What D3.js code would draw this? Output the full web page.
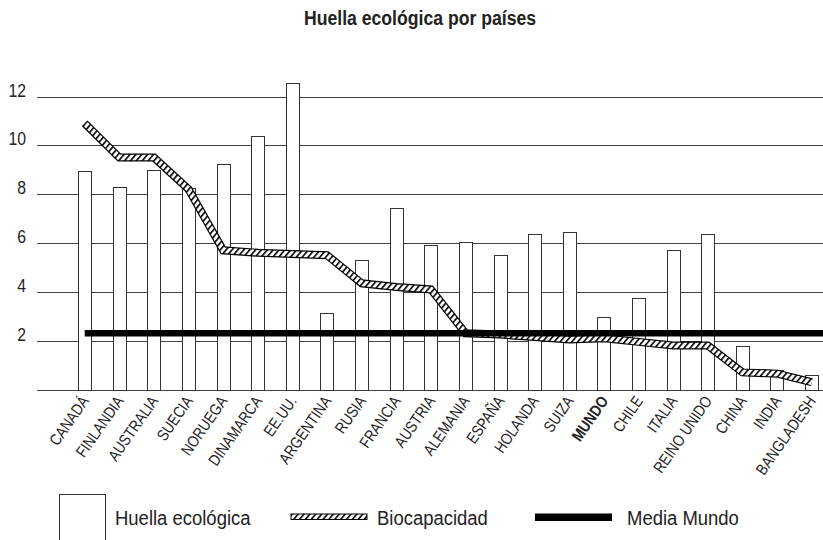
<!DOCTYPE html>
<html>
<head>
<meta charset="utf-8">
<script src="https://cdn.jsdelivr.net/npm/d3@7"></script>
<style>
  body { margin: 0; background: #fff; }
  text { font-family: 'Liberation Sans', Arial, sans-serif; fill: #222; }
</style>
</head>
<body>
<div class="container"></div>
<script>
// datos
let paises = ["CANADÁ", "FINLANDIA", "AUSTRALIA", "SUECIA", "NORUEGA", "DINAMARCA", "EE.UU.",
  "ARGENTINA", "RUSIA", "FRANCIA", "AUSTRIA", "ALEMANIA", "ESPAÑA", "HOLANDA", "SUIZA",
  "MUNDO", "CHILE", "ITALIA", "REINO UNIDO", "CHINA", "INDIA", "BANGLADESH"];
let huella = [8.95, 8.3, 9.0, 8.25, 9.25, 10.4, 12.55, 3.15, 5.3, 7.45, 5.9, 6.05, 5.5, 6.35,
  6.45, 2.95, 3.75, 5.7, 6.35, 1.8, 0.8, 0.6];
let biocapacidad = [10.9, 9.5, 9.5, 8.2, 5.7, 5.6, 5.55, 5.5, 4.35, 4.2, 4.1, 2.3, 2.25, 2.15,
  2.05, 2.1, 1.95, 1.8, 1.8, 0.7, 0.65, 0.3];
let mediaMundo = 2.3;
let yTicks = [2, 4, 6, 8, 10, 12];
let leyenda = ["Huella ecológica", "Biocapacidad", "Media Mundo"];

let width = 823, height = 540;
// la fuente original es condensada: se estrecha Liberation Sans
let narrow = " scale(0.84,1)";

let svg = d3.select(".container").append("svg")
    .attr("width", width)
    .attr("height", height);

let defs = svg.append("defs");
let hatch = defs.append("pattern")
    .attr("id", "hatch")
    .attr("patternUnits", "userSpaceOnUse")
    .attr("width", 4.5)
    .attr("height", 4.5)
    .attr("patternTransform", "rotate(40)");
hatch.append("rect").attr("width", 4.5).attr("height", 4.5).attr("fill", "#fff");
hatch.append("rect").attr("width", 1.6).attr("height", 4.5).attr("fill", "#000");

let x = d3.scaleBand()
    .domain(paises)
    .range([67.4, 829])
    .paddingInner(0.62)
    .paddingOuter(0.31);

let y = d3.scaleLinear()
    .domain([0, 12])
    .range([389.5, 96.5]);

let crisp = v => Math.round(v) + 0.5;
let cx = p => x(p) + x.bandwidth() / 2;

// titulo
svg.append("text")
    .text("Huella ecológica por países")
    .attr("transform", "translate(420,25)" + narrow)
    .attr("text-anchor", "middle")
    .style("font-size", "21px")
    .style("font-weight", "bold");

// rejilla
svg.append("g").selectAll("line")
  .data([0].concat(yTicks))
  .enter().append("line")
    .attr("x1", 37)
    .attr("x2", width)
    .attr("y1", d => crisp(y(d)))
    .attr("y2", d => crisp(y(d)))
    .style("stroke", "#444")
    .style("stroke-width", 1);

svg.append("g").selectAll("text")
  .data(yTicks)
  .enter().append("text")
    .text(d => d)
    .attr("transform", d => "translate(26," + y(d) + ") scale(0.9,1)")
    .attr("text-anchor", "end")
    .style("font-size", "17.5px");

// barras huella
svg.append("g").selectAll("rect")
  .data(paises)
  .enter().append("rect")
    .attr("x", d => crisp(x(d)))
    .attr("y", (d, i) => crisp(y(huella[i])))
    .attr("width", Math.round(x.bandwidth()))
    .attr("height", (d, i) => crisp(y(0)) - crisp(y(huella[i])))
    .style("fill", "#fff")
    .style("stroke", "#333")
    .style("stroke-width", 1);

// biocapacidad
let line = d3.line()
    .x((d, i) => cx(paises[i]))
    .y(d => y(d));

let bio = svg.append("g");
bio.append("path")
    .attr("d", line(biocapacidad))
    .style("fill", "none")
    .style("stroke", "#000")
    .style("stroke-width", 8)
    .style("stroke-linejoin", "miter");
bio.append("path")
    .attr("d", line(biocapacidad))
    .style("fill", "none")
    .style("stroke", "url(#hatch)")
    .style("stroke-width", 5.6)
    .style("stroke-linejoin", "miter");

// media mundo
svg.append("line")
    .attr("x1", cx(paises[0]))
    .attr("x2", width)
    .attr("y1", y(mediaMundo))
    .attr("y2", y(mediaMundo))
    .style("stroke", "#000")
    .style("stroke-width", 6.5);

// etiquetas de paises
svg.append("g").selectAll("text")
  .data(paises)
  .enter().append("text")
    .text(d => d)
    .attr("transform", d => "translate(" + (cx(d) + 5) + ",401) rotate(-55)" + narrow)
    .attr("text-anchor", "end")
    .style("font-size", "16px")
    .style("font-weight", d => d == "MUNDO" ? "bold" : "normal");

// leyenda
let ley = svg.append("g");
ley.append("rect")
    .attr("x", 59.5).attr("y", 494.5)
    .attr("width", 46).attr("height", 50)
    .style("fill", "#fff").style("stroke", "#333");
ley.append("rect")
    .attr("x", 291).attr("y", 514)
    .attr("width", 76).attr("height", 5.5)
    .style("fill", "url(#hatch)").style("stroke", "#000").style("stroke-width", 1);
ley.append("rect")
    .attr("x", 535).attr("y", 513.5)
    .attr("width", 77).attr("height", 7.5)
    .style("fill", "#000");
ley.selectAll("text")
  .data(leyenda)
  .enter().append("text")
    .text(d => d)
    .attr("transform", (d, i) => "translate(" + [115, 377, 627][i] + ",525) scale(0.88,1)")
    .style("font-size", "21px");
</script>
</body>
</html>
